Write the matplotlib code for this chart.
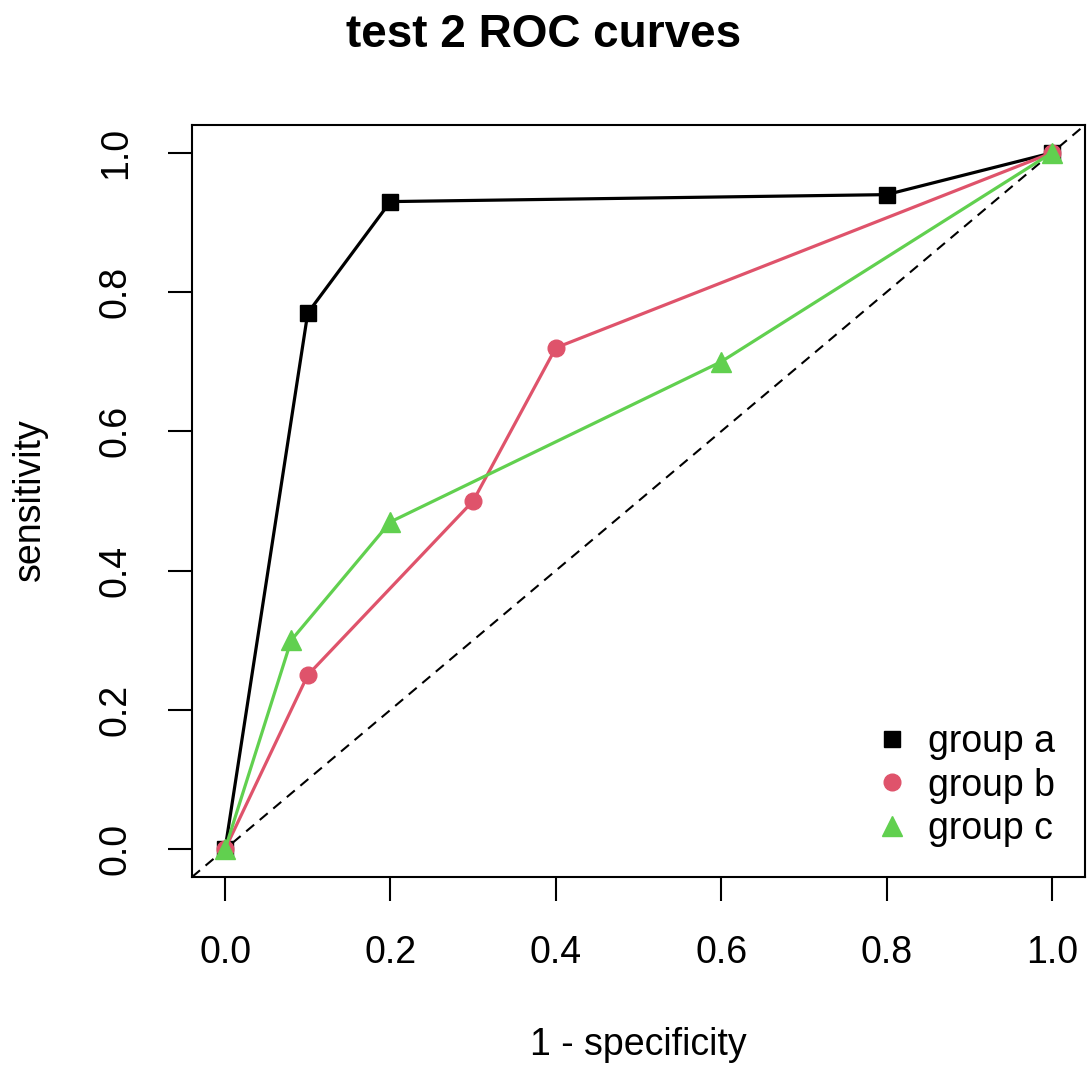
import matplotlib
matplotlib.use("Agg")
import matplotlib.pyplot as plt

plt.rcParams['font.family'] = ['Liberation Sans', 'DejaVu Sans']

# ROC points
fpr_a = [0.0, 0.1, 0.2, 0.8, 1.0]
tpr_a = [0.0, 0.77, 0.93, 0.94, 1.0]
fpr_b = [0.0, 0.1, 0.3, 0.4, 1.0]
tpr_b = [0.0, 0.25, 0.5, 0.72, 1.0]
fpr_c = [0.0, 0.08, 0.2, 0.6, 1.0]
tpr_c = [0.0, 0.3, 0.47, 0.7, 1.0]
labels = ["group a", "group b", "group c"]
ticks = [0.0, 0.2, 0.4, 0.6, 0.8, 1.0]
tick_labels = ["0.0", "0.2", "0.4", "0.6", "0.8", "1.0"]

fig = plt.figure(figsize=(10.87, 10.70), dpi=100)
ax = fig.add_axes([192/1087, 193/1070, 893/1087, 752/1070])

ax.plot([-0.04, 1.04], [-0.04, 1.04], color='black', lw=1.5, ls=(0, (5, 3.5)))
ax.plot(fpr_a, tpr_a, color='black', lw=2.3, marker='s', ms=11, label=labels[0])
ax.plot(fpr_b, tpr_b, color='#DF536B', lw=2.3, marker='o', ms=12, label=labels[1])
ax.plot(fpr_c, tpr_c, color='#61D04F', lw=2.3, marker='^', ms=14, label=labels[2])

ax.set_xlim(-0.04, 1.04)
ax.set_ylim(-0.04, 1.04)
ax.set_xticks(ticks)
ax.set_xticklabels(tick_labels)
ax.set_yticks(ticks)
ax.set_yticklabels(tick_labels, rotation=90, va='center')
ax.tick_params(length=17, width=1.5, labelsize=27, pad=25)
for s in ax.spines.values():
    s.set_linewidth(1.5)

leg = ax.legend(loc='lower right', frameon=False, fontsize=27, handlelength=1.0,
                handletextpad=0.45, labelspacing=0.2, borderaxespad=0.4)
for h in leg.legend_handles:
    h.set_linestyle('None')

fig.text(0.5, 1 - 35/1070, "test 2 ROC curves", ha='center', va='center',
         fontsize=33, fontweight='bold')
fig.text(638/1087, 1 - 1045/1070, "1 - specificity", ha='center', va='center', fontsize=27)
fig.text(30/1087, 1 - 500/1070, "sensitivity", ha='center', va='center',
         rotation=90, fontsize=27)

fig.savefig("out.png", dpi=100)
